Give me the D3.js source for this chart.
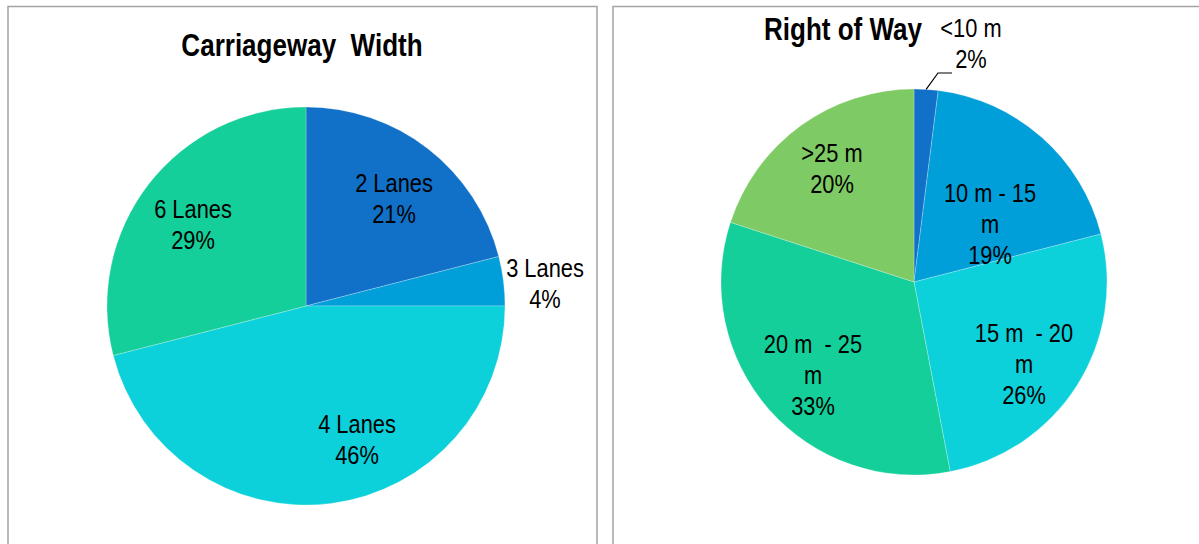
<!DOCTYPE html>
<html>
<head>
<meta charset="utf-8">
<script src="https://cdn.jsdelivr.net/npm/d3@7"></script>
<style>
  html, body { margin: 0; padding: 0; background: #ffffff; }
  svg { display: block; }
  text { font-family: "Liberation Sans", Arial, sans-serif; fill: #000; white-space: pre; }
</style>
</head>
<body>
<svg id="chart" width="1199" height="544"></svg>
<script>
// Carriageway width shares (%)
const laneCategories = ["2 Lanes", "3 Lanes", "4 Lanes", "6 Lanes"];
const laneShares = [21, 4, 46, 29];
const laneLabelLines = [["2 Lanes", "21%"], ["3 Lanes", "4%"], ["4 Lanes", "46%"], ["6 Lanes", "29%"]];
const laneColors = ["#1170c8", "#009fd9", "#0cd0da", "#14cf99"];

// Right of way shares (%)
const rowCategories = ["<10 m", "10 m - 15 m", "15 m  - 20 m", "20 m  - 25 m", ">25 m"];
const rowShares = [2, 19, 26, 33, 20];
const rowLabelLines = [["<10 m", "2%"], ["10 m - 15", "m", "19%"], ["15 m  - 20", "m", "26%"], ["20 m  - 25", "m", "33%"], [">25 m", "20%"]];
const rowColors = ["#1170c8", "#009fd9", "#0cd0da", "#14cf99", "#7eca64"];

const svg = d3.select("#chart");
const SX = 0.84;          // horizontal squeeze of the text face
const LINE = 31;          // label line spacing

// panel frames
svg.append("rect").attr("x", 8).attr("y", 6.5).attr("width", 589).attr("height", 560)
  .attr("fill", "none").attr("stroke", "#a3a3a3").attr("stroke-width", 1.5);
svg.append("rect").attr("x", 613).attr("y", 6.5).attr("width", 620).attr("height", 560)
  .attr("fill", "none").attr("stroke", "#a3a3a3").attr("stroke-width", 1.5);

function addText(parent, x, y, lines, size, weight) {
  const g = parent.append("g").attr("transform", `translate(${x},${y})`);
  const t = g.append("text")
    .attr("transform", `scale(${SX},1)`)
    .attr("text-anchor", "middle")
    .attr("xml:space", "preserve")
    .style("font-size", size + "px")
    .style("font-weight", weight || "normal");
  lines.forEach((s, i) => {
    t.append("tspan").attr("x", 0).attr("y", i * LINE).text(s);
  });
  return g;
}

function drawPie(cfg) {
  const g = svg.append("g").attr("transform", `translate(${cfg.cx},${cfg.cy})`);
  const pie = d3.pie().sort(null).value(d => d)(cfg.values);
  const arc = d3.arc().innerRadius(0).outerRadius(cfg.r);
  const color = d3.scaleOrdinal().domain(cfg.categories).range(cfg.colors);

  g.selectAll("path.slice").data(pie).join("path")
    .attr("class", "slice")
    .attr("d", arc)
    .attr("fill", (d, i) => color(cfg.categories[i]))
    .attr("stroke", "rgba(255,255,255,0.35)")
    .attr("stroke-width", 0.7);

  pie.forEach((d, i) => {
    const [dx, dy] = cfg.labelOffsets[i];
    addText(g, dx, dy, cfg.labelLines[i], 26, "normal");
  });

  if (cfg.leader) {
    const d = pie[cfg.leader.index];
    const mid = (d.startAngle + d.endAngle) / 2;
    const ex = Math.sin(mid) * cfg.r, ey = -Math.cos(mid) * cfg.r;
    const [kx, ky] = cfg.leader.knee;
    g.append("polyline")
      .attr("points", `${kx + 14},${ky} ${kx},${ky} ${ex},${ey}`)
      .attr("fill", "none").attr("stroke", "#000").attr("stroke-width", 1.2);
  }

  addText(svg, cfg.titleX, cfg.titleY, [cfg.title], 31, "bold");
}

drawPie({
  title: "Carriageway  Width", titleX: 302, titleY: 56,
  cx: 306, cy: 306, r: 199,
  categories: laneCategories, values: laneShares, colors: laneColors,
  labelLines: laneLabelLines,
  labelOffsets: [[88, -114], [239, -29], [51, 127], [-113, -88]]
});

drawPie({
  title: "Right of Way", titleX: 843, titleY: 40,
  cx: 914, cy: 282, r: 193,
  categories: rowCategories, values: rowShares, colors: rowColors,
  labelLines: rowLabelLines,
  labelOffsets: [[57, -245], [76, -80], [110, 60], [-101, 71], [-82, -120]],
  leader: { index: 0, knee: [24, -209] }
});
</script>
</body>
</html>
